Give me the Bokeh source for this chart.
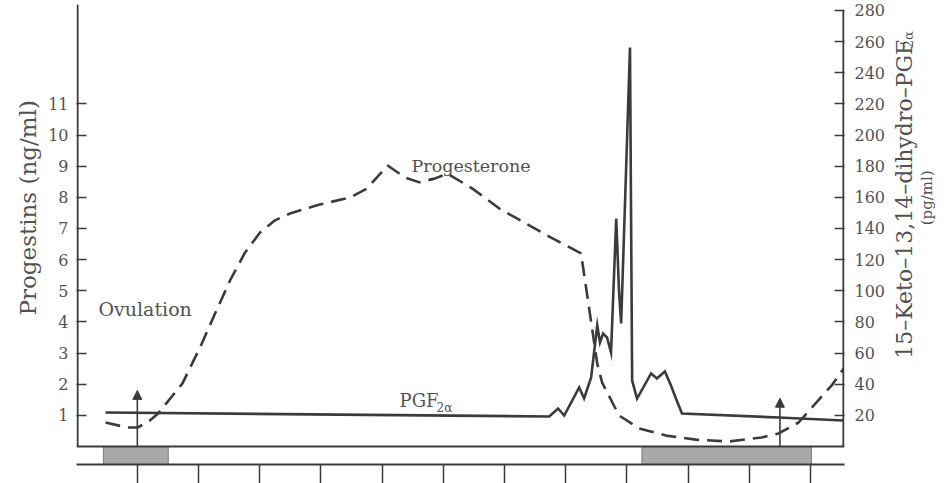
from bokeh.plotting import figure
from bokeh.layouts import row
from bokeh.models import Range1d, LinearAxis, FixedTicker, Span, Label, Arrow, NormalHead, Title
from bokeh.core.properties import value
from bokeh.embed import file_html
from bokeh.resources import INLINE
import math

# ---------------- data ----------------
# Progesterone, ng/ml (left axis), x in days of the cycle
prog_day = [-1.04, -0.33, 0.0, 0.33, 0.68, 1.47, 2.05, 2.54, 3.03, 3.52, 4.01, 4.50, 4.99,
            5.96, 6.94, 7.50, 8.18, 8.74, 9.22, 9.71, 10.14, 10.95, 11.83, 13.46, 14.50,
            15.03, 15.19, 15.74, 16.40, 17.28, 18.25, 19.33, 20.40, 20.96, 21.61, 22.16,
            22.69, 23.08]
prog_ng = [0.77, 0.61, 0.61, 0.77, 1.06, 2.02, 3.18, 4.27, 5.33, 6.23, 6.87, 7.26, 7.48,
           7.77, 7.99, 8.28, 9.02, 8.64, 8.48, 8.60, 8.76, 8.28, 7.64, 6.74, 6.20,
           2.66, 2.05, 1.00, 0.58, 0.35, 0.22, 0.16, 0.29, 0.42, 0.77, 1.38,
           1.96, 2.50]

# 15-keto-13,14-dihydro-PGF2a, pg/ml (right axis)
pgf_day = [-1.04, 13.46, 13.75, 13.95, 14.44, 14.60, 14.83, 15.03, 15.12, 15.22, 15.35,
           15.48, 15.65, 15.74, 15.81, 15.94, 16.10, 16.17, 16.33, 16.79, 16.98, 17.24,
           17.44, 17.60, 17.80, 20.96, 23.08]
pgf_pg = [21.8, 19.3, 24.4, 19.9, 37.9, 30.8, 44.3, 77.7, 66.8, 72.5, 70.0,
          60.3, 146.4, 100.2, 79.0, 157.9, 256.2, 42.4, 30.8, 46.9, 43.7, 48.2,
          39.2, 30.8, 21.2, 18.6, 16.7]

ovulation_days = [0, 21]
ovulation_arrow_top = [1.80, 1.55]
estrus_start = [-1.11, 16.49]
estrus_end = [1.01, 22.03]

day_ticks = list(range(0, 23, 2))
prog_ticks = list(range(1, 12))
pgf_ticks = list(range(20, 281, 20))
pg_per_ng = 20.0

# ---------------- styling ----------------
INK = "#3b3b3b"
TEXT = "#525252"
FONT = "DejaVu Serif"
H = 483
MAIN_W, SIDE_W = 888, 64
BL, BR, BT, BB = 76, 42, 4, 19   # borders around the frame

x0, x1 = -1.988, 23.11
y0, y1 = -0.578, 14.19

p = figure(width=MAIN_W, height=H, x_range=Range1d(x0, x1), y_range=Range1d(y0, y1),
           output_backend="svg", toolbar_location=None,
           min_border_left=BL, min_border_right=BR, min_border_top=BT, min_border_bottom=BB,
           background_fill_color="white", border_fill_color="white", outline_line_color=None)
p.extra_y_ranges = {"pgf": Range1d(y0 * pg_per_ng, y1 * pg_per_ng)}
p.grid.visible = False

# bottom axis (ticks only; its labels fall outside the picture)
xa = p.xaxis[0]
xa.ticker = FixedTicker(ticks=day_ticks)
xa.major_label_overrides = {d: "" for d in day_ticks}
xa.major_label_text_font_size = "0px"
xa.major_label_standoff = 0
xa.major_tick_in = 0
xa.major_tick_out = 19
xa.minor_tick_line_color = None
xa.axis_line_color = INK
xa.axis_line_width = 2
xa.major_tick_line_color = INK
xa.major_tick_line_width = 1.5

# left axis
ya = p.yaxis[0]
ya.ticker = FixedTicker(ticks=prog_ticks)
ya.major_tick_in = 10
ya.major_tick_out = 0
ya.minor_tick_line_color = None
ya.axis_line_color = None
ya.major_tick_line_color = INK
ya.major_tick_line_width = 1.5
ya.major_label_standoff = 8
ya.major_label_text_font = FONT
ya.major_label_text_font_size = "16px"
ya.major_label_text_color = TEXT

# right axis
ra = LinearAxis(y_range_name="pgf", ticker=FixedTicker(ticks=pgf_ticks))
ra.major_tick_in = 10
ra.major_tick_out = 0
ra.minor_tick_line_color = None
ra.axis_line_color = None
ra.major_tick_line_color = INK
ra.major_tick_line_width = 1.5
ra.major_label_standoff = 10
ra.major_label_text_font = FONT
ra.major_label_text_font_size = "16px"
ra.major_label_text_color = TEXT
p.add_layout(ra, "right")

# left axis title
p.add_layout(Title(text="Progestins (ng/ml)", align="left", offset=149,
                   text_font=FONT, text_font_size="23px", text_font_style="normal",
                   text_color=TEXT), "left")

# axis spines from zero upward
xl = x0 + 0.035
xr = x1 - 0.035
p.segment(x0=[xl, xr], y0=[0, 0], x1=[xl, xr], y1=[y1, pgf_ticks[-1] / pg_per_ng],
          line_color=INK, line_width=2)
p.add_layout(Span(location=0, dimension="width", line_color=INK, line_width=2))

# bars below the zero line
p.quad(left=estrus_start, right=estrus_end, bottom=[y0] * len(estrus_start), top=[0] * len(estrus_start),
       fill_color="#a9a9a9", line_color="#7a7a7a", line_width=1)

# series
p.line(prog_day, prog_ng, line_color=INK, line_width=2.6, line_dash="15 8")
p.line(pgf_day, pgf_pg, y_range_name="pgf", line_color=INK, line_width=2.6, line_join="miter")

# ovulation arrows
for d, top in zip(ovulation_days, ovulation_arrow_top):
    p.add_layout(Arrow(end=NormalHead(size=9, fill_color=INK, line_color=INK, line_width=1),
                       x_start=d, y_start=0, x_end=d, y_end=top,
                       line_color=INK, line_width=1.6))

# texts inside the plot
def lab(x, y, text, size, **kw):
    p.add_layout(Label(x=x, y=y, text=text, text_font=FONT, text_font_size=size,
                       text_color=TEXT, **kw))

lab(-1.27, 4.40, "Ovulation", "19px", text_baseline="alphabetic")
lab(8.96, 9.02, "Progesterone", "17.5px", text_baseline="alphabetic")
lab(8.57, 1.48, "PGF", "18px", text_baseline="alphabetic")
lab(9.78, 1.25, "2α", "12px", text_baseline="alphabetic")

# ---------------- right-hand axis title panel ----------------
side = figure(width=SIDE_W, height=H, x_range=Range1d(MAIN_W, MAIN_W + SIDE_W), y_range=Range1d(0, H),
              output_backend="svg", toolbar_location=None, x_axis_type=None, y_axis_type=None,
              min_border=0, background_fill_color="white", border_fill_color="white",
              outline_line_color=None)
side.grid.visible = False

def stext(px, py, text, size, align):
    side.text(x=[px], y=[H - py], text=[text], angle=math.pi / 2,
              text_font=value(FONT), text_font_size=value(size), text_color=TEXT,
              text_align=align, text_baseline="alphabetic")

stext(904, 372, "15–Keto–13,14–dihydro–PGF", "22px", "left")
stext(908, 46, "2α", "13px", "left")
stext(926, 203, "(pg/ml)", "15px", "center")

open("out.html", "w").write(file_html(row(p, side), INLINE))
